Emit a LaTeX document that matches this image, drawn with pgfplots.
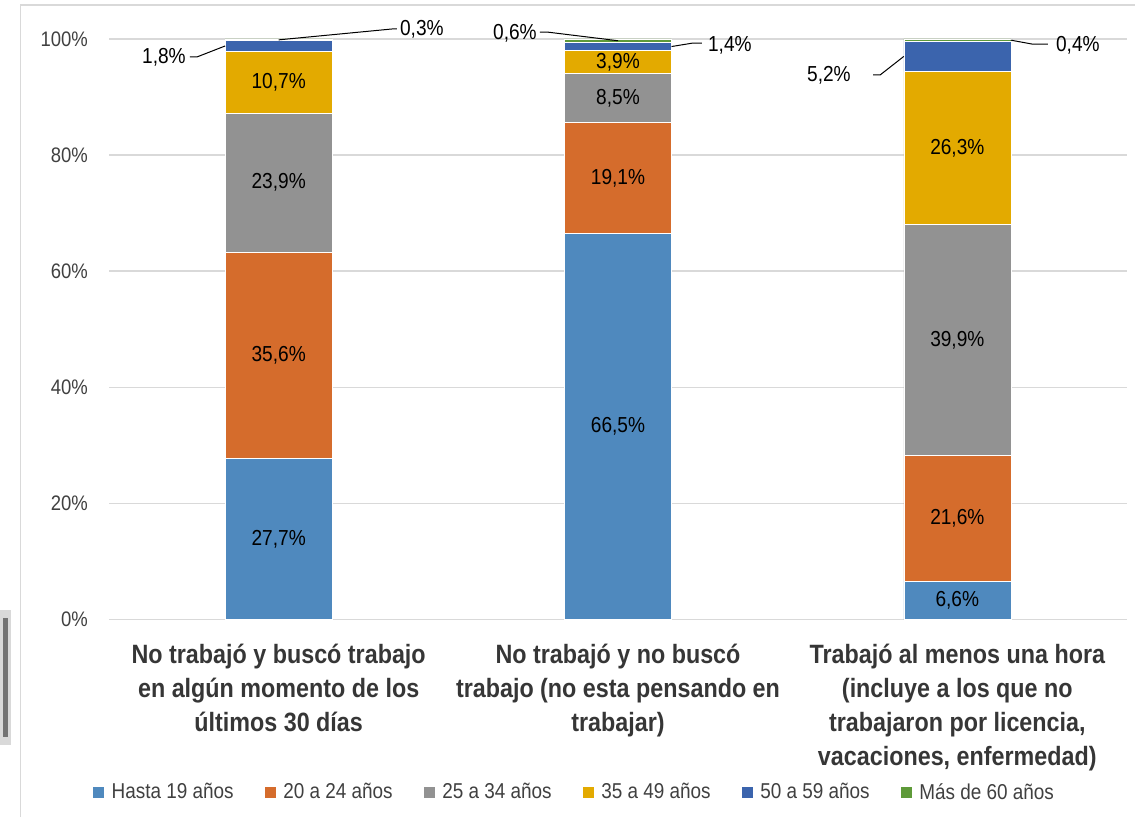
\documentclass[border=0pt]{standalone}
\usepackage{fontspec}
\setmainfont{Liberation Sans}[FakeStretch=0.88]
\usepackage{pgfplots}
\pgfplotsset{compat=1.18}
\definecolor{cA}{HTML}{4F89BE}
\definecolor{cB}{HTML}{D56C2C}
\definecolor{cC}{HTML}{929292}
\definecolor{cD}{HTML}{E3AA00}
\definecolor{cE}{HTML}{3B64AD}
\definecolor{cF}{HTML}{5E9A39}
\definecolor{txt}{HTML}{404040}
\definecolor{txtb}{HTML}{363636}
\definecolor{gridc}{HTML}{D9D9D9}
\newcommand{\dl}{\fontsize{21.7}{25}\selectfont}
\pgfplotsset{geom/.style={at={(109pt,197.5pt)}, anchor=south west, scale only axis,
  width=1018pt, height=580.5pt, xmin=-0.5, xmax=2.5, ymin=0, ymax=100, clip=false}}
\begin{document}
\begin{tikzpicture}[x=1pt,y=1pt]
\path[use as bounding box] (0,0) rectangle (1135,817);
\draw[gridc, line width=1.5pt] (20.5,0) -- (20.5,812) -- (1135,812);
\fill[black!15] (0,72) rectangle (10.5,207);
\fill[black!55] (2.5,80) rectangle (8,199);
\begin{axis}[
  geom,
  ybar stacked, bar width=107pt,
  axis line style={draw=none}, major tick length=0pt,
  ymajorgrids, grid style={gridc, line width=1.5pt},
  ytick={0,20,40,60,80,100},
  yticklabels={0\%,20\%,40\%,60\%,80\%,100\%},
  yticklabel style={anchor=east, inner sep=0pt, xshift=-21pt,
    font=\fontsize{21}{25}\selectfont, text=txt},
  xtick={0,1,2},
  xticklabels={{No trabajó y buscó trabajo\\en algún momento de los\\últimos 30 días},
    {No trabajó y no buscó\\trabajo (no esta pensando en\\trabajar)},
    {Trabajó al menos una hora\\(incluye a los que no\\trabajaron por licencia,\\vacaciones, enfermedad)}},
  xticklabel style={anchor=north, inner sep=0pt, yshift=-24pt, align=center,
    font=\fontsize{26.5}{34}\selectfont\bfseries, text=txtb},
  legend columns=6,
  legend cell align=left,
  legend image code/.code={\fill[#1] (0pt,-6pt) rectangle (12pt,6pt);},
  legend style={at={(0.4558,-0.2972)}, anchor=center, draw=none, fill=none,
    font=\fontsize{21.5}{25}\selectfont, text=txt, nodes={inner sep=0pt},
    /tikz/every odd column/.append style={column sep=7pt},
    /tikz/every even column/.append style={column sep=30pt}},
]
\addplot[fill=cA, draw=white, line width=0.6pt] coordinates {(0,27.7) (1,66.5) (2,6.6)};
\addplot[fill=cB, draw=white, line width=0.6pt] coordinates {(0,35.6) (1,19.1) (2,21.6)};
\addplot[fill=cC, draw=white, line width=0.6pt] coordinates {(0,23.9) (1,8.5) (2,39.9)};
\addplot[fill=cD, draw=white, line width=0.6pt] coordinates {(0,10.7) (1,3.9) (2,26.3)};
\addplot[fill=cE, draw=white, line width=0.6pt] coordinates {(0,1.8) (1,1.4) (2,5.2)};
\addplot[fill=cF, draw=white, line width=0.6pt] coordinates {(0,0.3) (1,0.6) (2,0.4)};
\legend{Hasta 19 años, 20 a 24 años, 25 a 34 años, 35 a 49 años, 50 a 59 años, Más de 60 años}
\end{axis}
\begin{axis}[geom, hide axis]
% inside labels
\node[font=\dl] at (axis cs:0,13.85) {27,7\%};
\node[font=\dl] at (axis cs:0,45.5) {35,6\%};
\node[font=\dl] at (axis cs:0,75.25) {23,9\%};
\node[font=\dl] at (axis cs:0,92.55) {10,7\%};
\node[font=\dl] at (axis cs:1,33.25) {66,5\%};
\node[font=\dl] at (axis cs:1,76.05) {19,1\%};
\node[font=\dl] at (axis cs:1,89.85) {8,5\%};
\node[font=\dl] at (axis cs:1,96.05) {3,9\%};
\node[font=\dl] at (axis cs:2,3.3) {6,6\%};
\node[font=\dl] at (axis cs:2,17.4) {21,6\%};
\node[font=\dl] at (axis cs:2,48.15) {39,9\%};
\node[font=\dl] at (axis cs:2,81.25) {26,3\%};
% outside labels with leader lines
\draw[black, line width=1pt] (axis cs:-0.2615,96.9) -- (axis cs:-0.241,96.9) -- (axis cs:-0.1577,98.8);
\node[font=\dl, anchor=east, inner sep=0pt] at (axis cs:-0.2733,96.9) {1,8\%};
\draw[black, line width=1pt] (axis cs:0,99.85) -- (axis cs:0.3368,101.74) -- (axis cs:0.3486,101.74);
\node[font=\dl, anchor=west, inner sep=0pt] at (axis cs:0.3573,101.6) {0,3\%};
\draw[black, line width=1pt] (axis cs:0.770,101.2) -- (axis cs:0.7906,101.2) -- (axis cs:1.0,99.7);
\node[font=\dl, anchor=east, inner sep=0pt] at (axis cs:0.761,101.04) {0,6\%};
\draw[black, line width=1pt] (axis cs:1.1577,98.7) -- (axis cs:1.2207,99.3) -- (axis cs:1.2473,99.3);
\node[font=\dl, anchor=west, inner sep=0pt] at (axis cs:1.265,98.97) {1,4\%};
\draw[black, line width=1pt] (axis cs:1.7517,93.8) -- (axis cs:1.7724,93.8) -- (axis cs:1.8423,97.0);
\node[font=\dl, anchor=east, inner sep=0pt] at (axis cs:1.6864,93.8) {5,2\%};
\draw[black, line width=1pt] (axis cs:2.1577,99.8) -- (axis cs:2.2229,99.1) -- (axis cs:2.2671,99.1);
\node[font=\dl, anchor=west, inner sep=0pt] at (axis cs:2.2905,98.97) {0,4\%};
\end{axis}
\end{tikzpicture}
\end{document}
